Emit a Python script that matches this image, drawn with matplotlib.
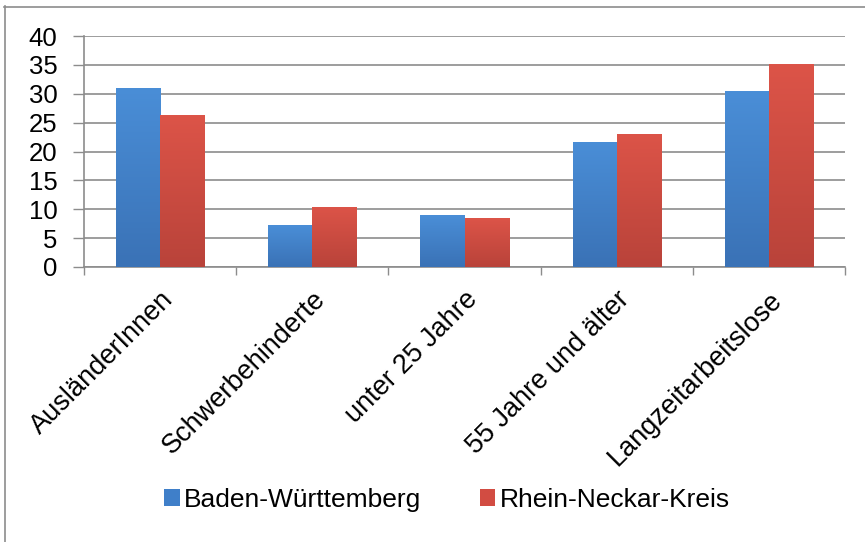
import numpy as np
import matplotlib
matplotlib.use('Agg')
import matplotlib.pyplot as plt
from matplotlib.lines import Line2D
from matplotlib.colors import LinearSegmentedColormap

plt.rcParams['font.family'] = ['Liberation Sans', 'DejaVu Sans']

# daten
kategorien = ['AusländerInnen', 'Schwerbehinderte', 'unter 25 Jahre',
              '55 Jahre und älter', 'Langzeitarbeitslose']
baden_wuerttemberg = [31.0, 7.2, 9.0, 21.7, 30.4]
rhein_neckar_kreis = [26.3, 10.4, 8.4, 23.1, 35.1]
serien = ['Baden-Württemberg', 'Rhein-Neckar-Kreis']
y_ticks = [0, 5, 10, 15, 20, 25, 30, 35, 40]

fig = plt.figure(figsize=(8.65, 5.42), dpi=100)
ax = fig.add_axes([84 / 865, 1 - 267 / 542, (845 - 84) / 865, (267 - 36) / 542])

x = np.arange(len(kategorien))
breite = 0.29
bars_bw = ax.bar(x - breite / 2, baden_wuerttemberg, breite, color='#3f7fc9',
                 label=serien[0], zorder=3)
bars_rnk = ax.bar(x + breite / 2, rhein_neckar_kreis, breite, color='#d24c42',
                  label=serien[1], zorder=3)

# verlauf in den balken (oben hell, unten dunkel)
verlaeufe = [(bars_bw, ['#4a8ed7', '#3a72b6']), (bars_rnk, ['#dc5448', '#b9433a'])]
for bars, farben in verlaeufe:
    cmap = LinearSegmentedColormap.from_list('v', farben)
    for b in bars:
        x0, y0 = b.get_x(), b.get_y()
        w, h = b.get_width(), b.get_height()
        grad = np.linspace(0, 1, 100).reshape(-1, 1)
        im = ax.imshow(grad, cmap=cmap, aspect='auto', origin='upper',
                       extent=[x0, x0 + w, y0, y0 + h], zorder=4)
        im.set_clip_path(b)

# achsen
ax.set_xlim(-0.5, len(kategorien) - 0.5)
ax.set_ylim(0, 40)
ax.set_yticks(y_ticks)
ax.tick_params(axis='y', labelsize=18.5, length=8, color='#8c8c8c', width=1, pad=11)
ax.grid(axis='y', color='#8c8c8c', linewidth=1.2, zorder=0)

ax.set_xticks(x)
ax.set_xticklabels(kategorien, rotation=45, ha='right', va='top',
                   rotation_mode='anchor', fontsize=19.5)
ax.tick_params(axis='x', length=0, pad=14)
ax.set_xticks(np.arange(-0.5, len(kategorien)), minor=True)
ax.tick_params(axis='x', which='minor', length=6, color='#8c8c8c', width=1)

for s in ['top', 'right']:
    ax.spines[s].set_visible(False)
for s in ['left', 'bottom']:
    ax.spines[s].set_color('#8c8c8c')
    ax.spines[s].set_linewidth(1.2)

# legende
fig.legend(loc='center', bbox_to_anchor=(447 / 865, 1 - 500 / 542), ncol=2,
           frameon=False, fontsize=19, handlelength=0.6, handleheight=0.6,
           handletextpad=0.15, columnspacing=2.2)

# rahmen
fig.add_artist(Line2D([4.5 / 865, 4.5 / 865], [0, 1 - 6 / 542],
                      transform=fig.transFigure, color='#8c8c8c', lw=1.2))
fig.add_artist(Line2D([4 / 865, 1], [1 - 6.5 / 542, 1 - 6.5 / 542],
                      transform=fig.transFigure, color='#8c8c8c', lw=1.2))

fig.savefig('out.png', dpi=100)
plt.close(fig)
